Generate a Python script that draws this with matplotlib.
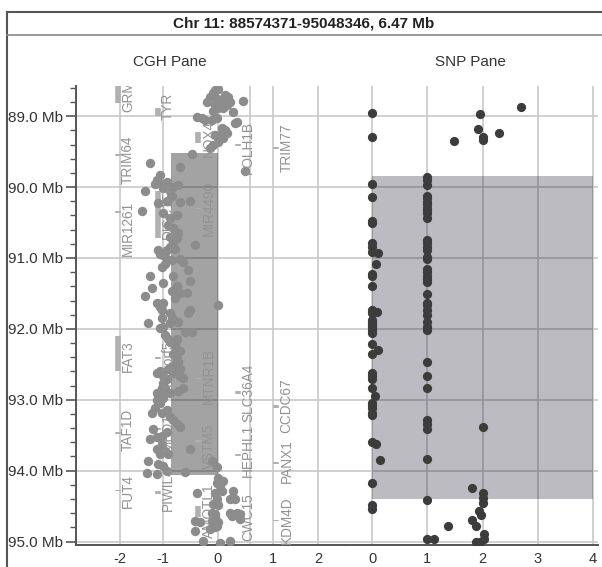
import numpy as np
import matplotlib
matplotlib.use("Agg")
import matplotlib.pyplot as plt
from matplotlib.ticker import FixedLocator, MultipleLocator
from matplotlib.lines import Line2D

plt.rcParams['font.family'] = ['Liberation Sans', 'DejaVu Sans']

# region shown
region_start_mb = 88.574371
region_end_mb = 95.048346
title = "Chr 11: 88574371-95048346, 6.47 Mb"

# CGH probes: log2 ratio and position (Mb)
cgh_log2 = [
    -0.05, 0.0, -0.09, -0.15, -0.04, 0.04, -0.2, 0.07, -0.05, 0.0, -0.09, 0.09, 0.16, 0.22, 0.18, 0.13,
    0.45, 0.27, -0.38, -0.29, -0.24, -0.11, -0.02, 0.35, 0.31, 0.07, 0.13, 0.16, 0.04, 0.09, 0.0, -0.09,
    -0.15, -0.05, 0.49, -0.47, -0.69, -1.30, -1.07, -1.14, -1.19, -1.02, -0.93, -1.0, -0.87, -0.82, -0.73,
    -1.42, -1.12, -0.93, -0.84, -0.69, -0.51, -1.49, -1.0, -0.87, -0.75, -0.91, -0.82, -0.73, -0.87, -0.75,
    -0.84, -0.82, -0.87, -0.78, -0.93, -0.42, -1.12, -1.07, -1.0, -0.93, -0.84, -0.96, -1.02, -0.69, -0.64,
    -0.55, -0.51, -1.30, -1.26, -1.42, -1.0, -0.82, -0.75, -0.69, -0.84, -0.78, -0.56, 0.0, -1.14, -1.07,
    -1.0, -1.02, -0.87, -0.84, -0.51, -0.55, -0.73, -1.35, -1.02, -1.0, -1.07, -0.87, -0.6, -0.47, -0.96,
    -0.91, -0.87, -0.75, -0.78, -0.69, -0.82, -0.75, -0.73, -0.84, -0.91, -0.82, -0.69, -1.07, -1.14, -1.0,
    -0.93, -0.69, -0.64, -1.0, -1.02, -1.14, -1.02, -1.14, -1.07, -1.0, -0.96, -0.87, -0.73, -0.64, -1.26,
    -1.19, -1.02, -0.93, -0.87, -0.82, -0.75, -0.69, -1.23, -1.30, -1.14, -1.02, -0.93, -1.02, -0.51, -0.96,
    -0.91, -1.07, -1.14, -1.35, -1.37, -1.12, -1.0, -0.93, -1.14, -0.6, -0.1, -0.02, 0.0, 0.09, 0.04, -0.02,
    0.07, -0.05, -0.02, -0.09, 0.0, 0.27, 0.22, 0.31, -0.38, -0.11, -0.05, -0.11, 0.0, -0.02, -0.15, 0.22,
    0.25, 0.35, 0.40, 0.40, -0.42, -0.33, -0.42, -0.05, -0.05, -0.27, 0.04, 0.22,
]
cgh_mb = [
    88.63, 88.62, 88.68, 88.73, 88.75, 88.77, 88.80, 88.82, 88.84, 88.89, 88.92, 88.89, 88.84, 88.80, 88.73, 88.70,
    88.79, 88.94, 89.01, 89.03, 89.06, 89.06, 89.03, 89.08, 89.10, 89.17, 89.20, 89.24, 89.27, 89.31, 89.37, 89.41,
    89.45, 89.27, 89.77, 89.54, 89.71, 89.66, 89.83, 89.90, 89.95, 89.97, 89.93, 90.02, 90.05, 90.00, 89.97,
    90.06, 90.23, 90.19, 90.12, 90.21, 90.19, 90.34, 90.36, 90.43, 90.40, 90.54, 90.58, 90.65, 90.71, 90.72,
    90.71, 90.78, 90.85, 90.87, 90.89, 90.82, 90.89, 90.94, 90.96, 91.01, 91.03, 91.08, 91.13, 91.01, 91.06,
    91.17, 91.32, 91.25, 91.43, 91.53, 91.36, 91.25, 91.39, 91.50, 91.46, 91.56, 91.49, 91.67, 91.64, 91.69,
    91.63, 91.74, 91.78, 91.84, 91.74, 91.78, 91.91, 91.92, 91.85, 91.98, 91.99, 91.92, 92.05, 92.04, 92.09,
    92.14, 92.19, 92.14, 92.23, 92.31, 92.35, 92.42, 92.47, 92.52, 92.56, 92.62, 92.56, 92.59, 92.62, 92.66,
    92.70, 92.66, 92.69, 92.76, 92.84, 92.90, 92.91, 93.01, 93.04, 92.97, 92.84, 92.90, 92.87, 92.83, 93.19,
    93.12, 93.18, 93.15, 93.25, 93.29, 93.34, 93.39, 93.41, 93.55, 93.53, 93.51, 93.46, 93.62, 93.69, 93.72,
    93.76, 93.76, 93.69, 93.86, 94.03, 93.90, 93.93, 94.00, 94.04, 94.02, 93.86, 93.95, 94.10, 94.14, 94.21, 94.18,
    94.28, 94.31, 94.40, 94.47, 94.49, 94.28, 94.40, 94.40, 94.31, 94.59, 94.61, 94.71, 94.73, 94.78, 94.82, 94.59,
    94.64, 94.59, 94.68, 94.61, 94.71, 94.72, 94.85, 94.66, 94.80, 94.99, 95.02, 94.99,
]

# SNP probes: value and position (Mb)
snp_value = [
    0, 0, 0, 0, 0, 0, 0, 0, 0, 0, 0, 0, 0, 0, 0, 0, 0, 0, 0, 0, 0, 0, 0, 0, 0, 0, 0, 0, 0, 0, 0, 0, 0, 0, 0,
    0.11, 0.07, 0.09, 0.11, 0.05, 0.07, 0.14,
    1, 1, 1, 1, 1, 1, 1, 1, 1, 1, 1, 1, 1, 1, 1, 1, 1, 1, 1, 1, 1, 1, 1, 1, 1, 1, 1, 1, 1, 1, 1, 1, 1, 1, 1,
    1, 1, 1, 1, 1.13,
    2.69, 1.96, 1.91, 2.0, 2.0, 2.29, 1.49, 2.0, 1.8, 2.0, 2.0, 2.0, 1.93, 1.97, 1.8, 1.89, 1.38, 2.02, 1.89,
    1.96, 2.02,
]
snp_mb = [
    88.95, 89.30, 89.96, 90.14, 90.48, 90.51, 90.79, 90.85, 90.92, 91.22, 91.25, 91.39, 91.74, 91.78, 91.88,
    91.92, 91.95, 91.98, 92.02, 92.06, 92.21, 92.35, 92.62, 92.66, 92.70, 92.83, 93.04, 93.08, 93.12, 93.18,
    93.22, 93.60, 94.18, 94.49, 94.54,
    90.93, 91.08, 91.76, 92.30, 92.95, 93.63, 93.85,
    89.86, 89.90, 89.97, 90.12, 90.16, 90.21, 90.24, 90.29, 90.33, 90.37, 90.44, 90.74, 90.79, 90.85, 90.89,
    90.99, 91.02, 91.15, 91.20, 91.25, 91.29, 91.34, 91.51, 91.63, 91.67, 91.74, 91.81, 91.91, 91.97, 92.01,
    92.47, 92.66, 92.83, 93.28, 93.34, 93.41, 93.83, 94.41, 94.96, 94.96,
    88.87, 88.97, 89.18, 89.29, 89.33, 89.24, 89.35, 93.39, 94.24, 94.32, 94.38, 94.45, 94.57, 94.62, 94.69,
    94.78, 94.78, 94.89, 95.00, 95.00, 94.97,
]

# called segments (x0, x1, start Mb, end Mb)
cgh_segment = (-0.855, 0.0, 89.52, 94.06)
snp_segment = (0.0, 4.0, 89.85, 94.40)

# genes: name, lane, start, end, label centre (Mb)
lane_x = [-2.05, -1.12, -0.36, 0.36, 1.07]
gene_names = ["GRM5", "TRIM64", "MIR1261", "FAT3", "TAF1D", "FUT4",
              "TYR", "DISC1FP1", "C11orf54", "MED17", "PIWIL4",
              "NOX4", "MIR4490", "MTNR1B", "VSTM5", "AMOTL1",
              "FOLH1B", "SLC36A4", "HEPHL1", "CWC15",
              "TRIM77", "CCDC67", "PANX1", "KDM4D"]
gene_lane = [0, 0, 0, 0, 0, 0,
             1, 1, 1, 1, 1,
             2, 2, 2, 2, 2,
             3, 3, 3, 3,
             4, 4, 4, 4]
gene_start = [88.58, 89.54, 90.34, 92.10, 93.46, 94.27,
              88.88, 90.05, 92.40, 93.40, 94.29,
              89.22, 90.29, 92.69, 93.57, 94.50,
              89.39, 92.88, 93.76, 94.68,
              89.44, 93.08, 93.88, 94.69]
gene_end = [88.82, 89.56, 90.36, 92.60, 93.48, 94.29,
            89.00, 90.72, 92.42, 93.42, 94.33,
            89.38, 90.31, 92.71, 93.60, 94.65,
            89.42, 92.92, 93.80, 94.70,
            89.46, 93.12, 93.91, 94.71]
gene_label_mb = [88.66, 89.62, 90.58, 92.39, 93.43, 94.28,
                 88.86, 90.28, 92.45, 93.40, 94.25,
                 89.31, 90.30, 92.66, 93.65, 94.56,
                 89.44, 92.90, 93.72, 94.66,
                 89.45, 93.08, 93.86, 94.70]

cgh_xticks = [-2, -1, 0, 1, 2]
snp_xticks = [0, 1, 2, 3, 4]
yticks = [89, 90, 91, 92, 93, 94, 95]

# CGH axis is stretched around zero
scale_x = [-4, -2, -1, 0, 1, 2, 4]
scale_px = [34, 120, 163, 218, 273, 318, 408]


def fwd(x):
    return np.interp(x, scale_x, scale_px)


def inv(p):
    return np.interp(p, scale_px, scale_x)


W, H = 602, 567
fig = plt.figure(figsize=(W / 100, H / 100), dpi=100)


def fig_rect(x0, y0, x1, y1):
    return [x0 / W, 1 - y1 / H, (x1 - x0) / W, (y1 - y0) / H]


ax1 = fig.add_axes(fig_rect(76, 86, 345, 545))
ax2 = fig.add_axes(fig_rect(345, 86, 598, 545), sharey=ax1)

grid_c = '#c8c8c8'
spine_c = '#555555'
for ax in (ax1, ax2):
    ax.set_axisbelow(True)
    ax.grid(True, color=grid_c, lw=1.2)
    for s in ('top', 'right', 'left'):
        ax.spines[s].set_visible(False)
    ax.spines['bottom'].set_color(spine_c)
    ax.spines['bottom'].set_linewidth(1.4)
    ax.tick_params(axis='x', colors='#333333', labelsize=10.5, length=0, pad=5)

ax1.set_xscale('function', functions=(fwd, inv))
ax1.set_xlim(-3.02, 2.6)
ax1.xaxis.set_major_locator(FixedLocator(cgh_xticks))
ax1.set_xticklabels([str(t) for t in cgh_xticks])
ax1.axvline(np.log2(1.5), color=grid_c, lw=1.2, zorder=0.6)

ax2.set_xlim(-0.49, 4.09)
ax2.xaxis.set_major_locator(FixedLocator(snp_xticks))
ax2.set_xticklabels([str(t) for t in snp_xticks])

ax1.set_ylim(region_end_mb, region_start_mb)
ax1.yaxis.set_major_locator(FixedLocator(yticks))
ax1.yaxis.set_minor_locator(MultipleLocator(0.2))
ax1.set_yticklabels([f"{v:.1f} Mb" for v in yticks])
ax1.spines['left'].set_visible(True)
ax1.spines['left'].set_color(spine_c)
ax1.spines['left'].set_linewidth(1.4)
ax1.tick_params(axis='y', which='major', length=7, width=1.2, color=spine_c,
                colors='#333333', labelsize=11, pad=2)
ax1.tick_params(axis='y', which='minor', length=4, width=1.0, color=spine_c)
ax2.tick_params(axis='y', which='both', left=False, labelleft=False)

# segments
x0, x1, y0, y1 = cgh_segment
ax1.fill_between([x0, x1], y0, y1, color='#000000', alpha=0.36, lw=0, zorder=1)
x0, x1, y0, y1 = snp_segment
ax2.fill_between([x0, x1], y0, y1, color='#05051a', alpha=0.27, lw=0, zorder=1)

# gene tracks
for name, lane, g0, g1, lab in zip(gene_names, gene_lane, gene_start, gene_end, gene_label_mb):
    xl = lane_x[lane]
    ax1.vlines(xl, g0, g1, color='#b0b0b0', lw=4, zorder=2)
    ax1.annotate(name, (xl, lab), xytext=(7.5, 0), textcoords='offset points',
                 rotation=90, ha='center', va='center', fontsize=9.8,
                 color='#929292', zorder=4, annotation_clip=False, clip_on=True)

ax1.scatter(cgh_log2, cgh_mb, s=46, color='#8c8c8c', lw=0, zorder=3)
ax2.scatter(snp_value, snp_mb, s=44, color='#3c3c3c', lw=0, zorder=3)

# panel frame and titles
frame_c = '#555555'
fig.add_artist(Line2D([7 / W, 7 / W], [0, 1 - 12 / H], color=frame_c, lw=1.5))
fig.add_artist(Line2D([7 / W, 1], [1 - 12 / H, 1 - 12 / H], color=frame_c, lw=1.5))
fig.add_artist(Line2D([7 / W, 1], [1 - 35 / H, 1 - 35 / H], color='#888888', lw=1.2))
fig.text(304 / W, 1 - 23.5 / H, title, ha='center', va='center', fontsize=11,
         fontweight='bold', color='#222222')
fig.text(170 / W, 1 - 62 / H, "CGH Pane", ha='center', va='center', fontsize=11, color='#333333')
fig.text(470 / W, 1 - 62 / H, "SNP Pane", ha='center', va='center', fontsize=11, color='#333333')

fig.savefig("out.png", dpi=100)
